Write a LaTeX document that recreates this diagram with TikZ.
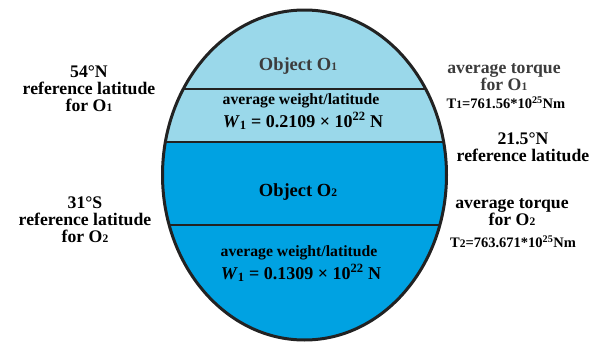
\documentclass[tikz,border=0pt]{standalone}
\usepackage{fontspec}
\setmainfont{Liberation Serif}
\definecolor{lightblue}{HTML}{9AD8EA}
\definecolor{darkblue}{HTML}{00A2E2}
\definecolor{edge}{HTML}{222222}
\definecolor{graytxt}{HTML}{3C3C3C}
\tikzset{
  lbl/.style={font=\fontsize{17.7}{17}\selectfont\bfseries, align=center, inner sep=0pt},
  objl/.style={font=\fontsize{18.5}{19}\selectfont\bfseries, align=center, inner sep=0pt},
  inlbl/.style={font=\fontsize{15.7}{16}\selectfont\bfseries, align=center, inner sep=0pt},
  frm/.style={font=\fontsize{18}{18}\selectfont\bfseries, align=center, inner sep=0pt},
  tl/.style={font=\fontsize{14.5}{15}\selectfont\bfseries, align=center, inner sep=0pt},
  divider/.style={draw=edge, line width=2.6pt},
}
\newcommand{\smallsub}[1]{{\fontsize{11.5}{11}\selectfont #1}}
\newcommand{\wlab}[1]{\textit{W}\textsubscript{1} = #1 × 10\textsuperscript{22} N}
\newcommand{\tlab}[3]{T\smallsub{#1}=#2*10\textsuperscript{#3}Nm}
\begin{document}
\begin{tikzpicture}[x=1pt,y=-1pt]
\useasboundingbox (0,0) rectangle (606,343);
\begin{scope}
  \clip (304.5,175) ellipse [x radius=142, y radius=165];
  \fill[lightblue] (150,0) rectangle (460,142);
  \fill[darkblue] (150,142) rectangle (460,345);
  \draw[divider] (150,89) -- (460,89);
  \draw[divider] (150,142) -- (460,142);
  \draw[divider] (150,225) -- (460,225);
\end{scope}
\draw[edge, line width=3pt] (304.5,175) ellipse [x radius=142, y radius=165];
% inside texts
\node[objl, text=graytxt] (o1) at (298,66) {Object O\smallsub{1}};
\node[inlbl] (w1t) at (301,101) {average weight/latitude};
\node[frm] (w1) at (303,121) {\wlab{0.2109}};
\node[objl] (o2) at (298,192) {Object O\smallsub{2}};
\node[inlbl] (w2t) at (299,253) {average weight/latitude};
\node[frm] (w2) at (301,273) {\wlab{0.1309}};
% left texts
\node[lbl] (l1) at (89,89) {54°N\\reference latitude\\for O\smallsub{1}};
\node[lbl] (l2) at (85,220) {31°S\\reference latitude\\for O\smallsub{2}};
% right texts
\node[lbl, text=graytxt] (r1) at (504,77) {average torque\\for O\smallsub{1}};
\node[tl] (t1) at (506,103) {\tlab{1}{761.56}{25}};
\node[lbl] (r2) at (523,147) {21.5°N\\reference latitude};
\node[lbl] (r3) at (512,212) {average torque\\for O\smallsub{2}};
\node[tl] (t2) at (513,242) {\tlab{2}{763.671}{25}};
\end{tikzpicture}
\end{document}
